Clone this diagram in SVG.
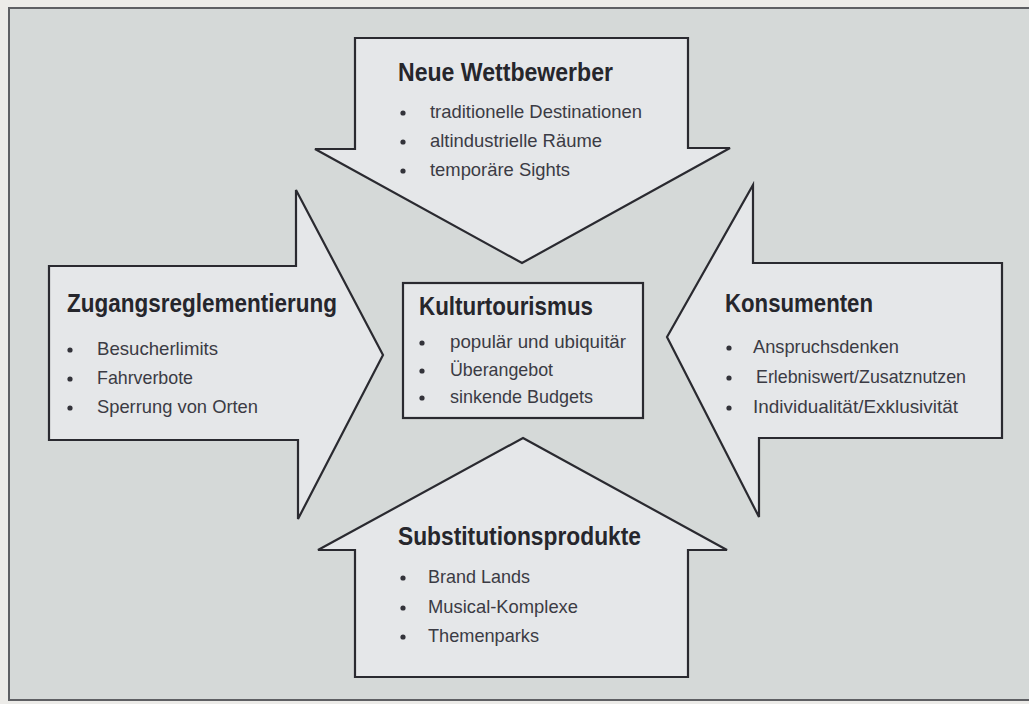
<svg xmlns="http://www.w3.org/2000/svg" width="1029" height="704" viewBox="0 0 1029 704">
<style>
.arrow{fill:#e5e7e9;stroke:#2a2a30;stroke-width:2.2;stroke-linejoin:miter}
.title{font-family:"Liberation Sans Narrow","Liberation Sans",Arial,sans-serif;font-weight:bold;font-size:25px;fill:#26262c}
.item{font-family:"Liberation Sans Narrow","Liberation Sans",Arial,sans-serif;font-size:18.5px;fill:#3b3b44}
.dot{fill:#33333a}
</style>
<rect x="0" y="0" width="1029" height="704" fill="#ecebe8"/>
<rect x="9" y="8" width="1040" height="692" fill="#d5d9d8" stroke="#5e5f63" stroke-width="2"/>
<g id="connectors"></g>
<g id="neue-wettbewerber">
<path class="arrow" d="M355,38 H688 V148 H730 L522,263 L315,149 H355 Z"/>
<text class="title" x="398" y="81" textLength="215" lengthAdjust="spacingAndGlyphs">Neue Wettbewerber</text>
<circle class="dot" cx="403" cy="113" r="2.6"/><text class="item" x="430" y="118" textLength="212" lengthAdjust="spacingAndGlyphs">traditionelle Destinationen</text>
<circle class="dot" cx="403" cy="142" r="2.6"/><text class="item" x="430" y="147" textLength="172" lengthAdjust="spacingAndGlyphs">altindustrielle Räume</text>
<circle class="dot" cx="403" cy="171" r="2.6"/><text class="item" x="430" y="176" textLength="140" lengthAdjust="spacingAndGlyphs">temporäre Sights</text>
</g>
<g id="zugangsreglementierung">
<path class="arrow" d="M49,266 H296 V190 L383,355 L298,519 V440 H49 Z"/>
<text class="title" x="67" y="312" textLength="270" lengthAdjust="spacingAndGlyphs">Zugangsreglementierung</text>
<circle class="dot" cx="70" cy="350" r="2.6"/><text class="item" x="97" y="355" textLength="121" lengthAdjust="spacingAndGlyphs">Besucherlimits</text>
<circle class="dot" cx="70" cy="379" r="2.6"/><text class="item" x="97" y="384" textLength="96" lengthAdjust="spacingAndGlyphs">Fahrverbote</text>
<circle class="dot" cx="70" cy="408" r="2.6"/><text class="item" x="97" y="413" textLength="161" lengthAdjust="spacingAndGlyphs">Sperrung von Orten</text>
</g>
<g id="konsumenten">
<path class="arrow" d="M1002,263 H753 V185 L667,337 L759,517 V438 H1002 Z"/>
<text class="title" x="725" y="312" textLength="148" lengthAdjust="spacingAndGlyphs">Konsumenten</text>
<circle class="dot" cx="729" cy="348" r="2.6"/><text class="item" x="753" y="353" textLength="146" lengthAdjust="spacingAndGlyphs">Anspruchsdenken</text>
<circle class="dot" cx="729" cy="378" r="2.6"/><text class="item" x="756" y="383" textLength="210" lengthAdjust="spacingAndGlyphs">Erlebniswert/Zusatznutzen</text>
<circle class="dot" cx="729" cy="408" r="2.6"/><text class="item" x="753" y="413" textLength="205" lengthAdjust="spacingAndGlyphs">Individualität/Exklusivität</text>
</g>
<g id="substitutionsprodukte">
<path class="arrow" d="M523,438 L727,550 H688 V677 H355 V550 H318 Z"/>
<text class="title" x="398" y="545" textLength="243" lengthAdjust="spacingAndGlyphs">Substitutionsprodukte</text>
<circle class="dot" cx="403" cy="578" r="2.6"/><text class="item" x="428" y="583" textLength="102" lengthAdjust="spacingAndGlyphs">Brand Lands</text>
<circle class="dot" cx="403" cy="608" r="2.6"/><text class="item" x="428" y="613" textLength="150" lengthAdjust="spacingAndGlyphs">Musical-Komplexe</text>
<circle class="dot" cx="403" cy="637" r="2.6"/><text class="item" x="428" y="642" textLength="111" lengthAdjust="spacingAndGlyphs">Themenparks</text>
</g>
<g id="kulturtourismus">
<rect class="arrow" x="403" y="283" width="240" height="135" stroke-width="2.6"/>
<text class="title" x="419" y="315" textLength="174" lengthAdjust="spacingAndGlyphs">Kulturtourismus</text>
<circle class="dot" cx="422" cy="343" r="2.6"/><text class="item" x="450" y="348" textLength="176" lengthAdjust="spacingAndGlyphs">populär und ubiquitär</text>
<circle class="dot" cx="422" cy="371" r="2.6"/><text class="item" x="450" y="376" textLength="103" lengthAdjust="spacingAndGlyphs">Überangebot</text>
<circle class="dot" cx="422" cy="398" r="2.6"/><text class="item" x="450" y="403" textLength="143" lengthAdjust="spacingAndGlyphs">sinkende Budgets</text>
</g>
</svg>
